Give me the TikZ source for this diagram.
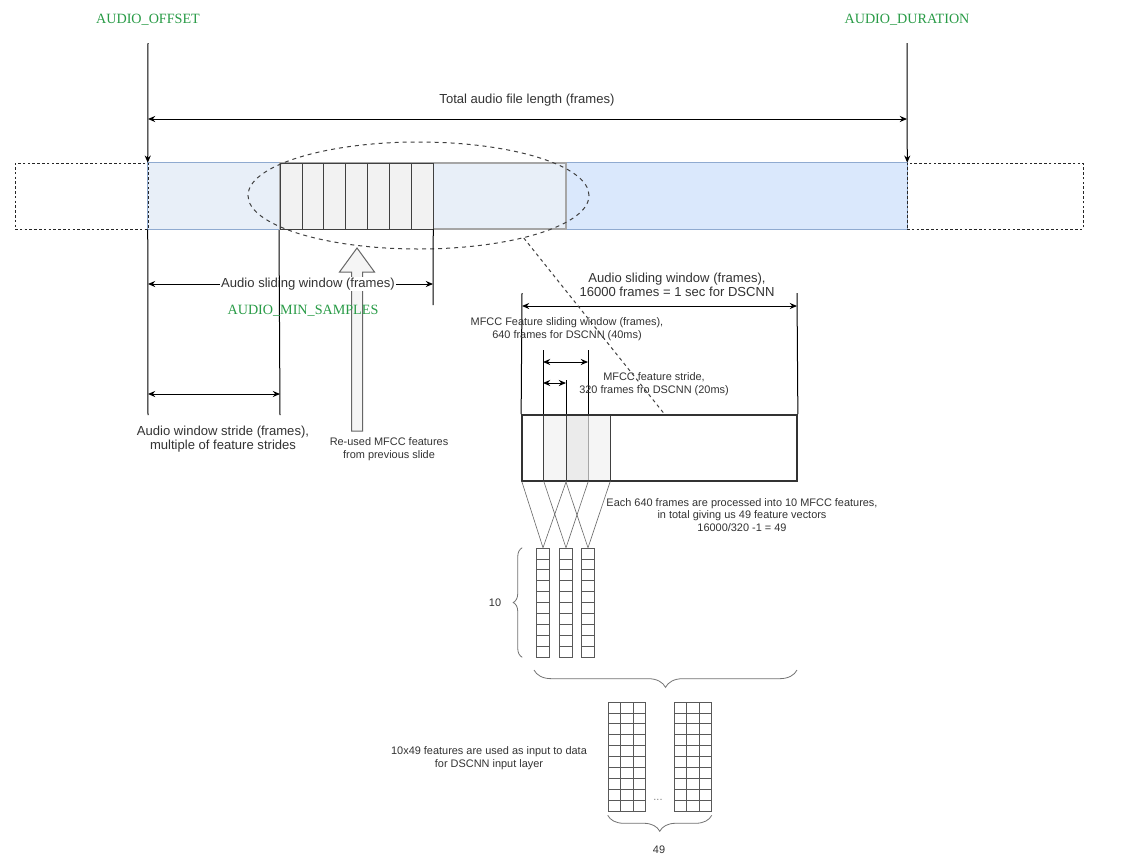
\documentclass[tikz,border=0pt]{standalone}
\usepackage{fontspec}
\setmainfont{Liberation Sans}
\newfontfamily\paramfont{Liberation Serif}
\usetikzlibrary{positioning, arrows.meta, shapes.geometric, fit, calc, decorations.pathreplacing}
\definecolor{paramgreen}{RGB}{40,155,70}
\definecolor{bandblue}{HTML}{DAE8FC}
\definecolor{bandpale}{HTML}{E8EFF8}
\definecolor{bandline}{HTML}{8FAAD0}
\tikzset{
  txt/.style      = {align=center, inner sep=1pt, font=\fontsize{9.8}{10.8}\selectfont, text=black!80},
  smalltxt/.style = {txt, font=\fontsize{8.2}{9.4}\selectfont},
  param/.style    = {inner sep=1pt, font=\paramfont\fontsize{10.6}{12}\selectfont, text=paramgreen},
  area/.style     = {fit={#1}, inner sep=0pt},
  ghost/.style    = {draw=black!85, dash pattern=on 2pt off 1.6pt, line width=0.6pt},
  guide/.style    = {line width=0.75pt},
  dimarrow/.style = {{Stealth[length=1.9mm,width=1.6mm]}-{Stealth[length=1.9mm,width=1.6mm]}, line width=0.75pt},
  drop/.style     = {-{Stealth[length=1.9mm,width=1.6mm]}, line width=0.75pt},
  slicecell/.style= {draw=black!75, fill=black!5, line width=0.6pt},
  gridcell/.style = {draw=black!65, line width=0.5pt},
  fan/.style      = {draw=black!60, line width=0.45pt},
  lasso/.style    = {ellipse, draw=black!75, dash pattern=on 3pt off 3pt, line width=0.75pt, inner sep=0pt},
  link/.style     = {draw=black!75, dash pattern=on 2.5pt off 2.5pt, line width=0.75pt},
  hollow/.style   = {draw=black!60, fill=black!4, line width=0.75pt},
  curly/.style    = {decorate, decoration={brace, amplitude=#1}, draw=black!55, line width=0.6pt},
}

\begin{document}
\begin{tikzpicture}[x=0.75pt, y=-0.75pt]
  \useasboundingbox[fill=white] (0,0) rectangle (1138,861);

  % parameter names
  \node[param] at (148, 20) (offset)   {AUDIO\_OFFSET};
  \node[param] at (907, 20) (duration) {AUDIO\_DURATION};

  % the audio file
  \node[area={(148,163) (907,229)}, fill=bandblue] (band) {};
  \node[area={(148,163) (566,229)}, fill=bandpale] (seen) {};
  \draw[bandline, line width=0.75pt] (band.north west) rectangle (band.south east);
  \node[area={(15,163) (148,229)}, ghost]   (padL) {};
  \node[area={(907,163) (1083,229)}, ghost] (padR) {};

  % previous window and its MFCC slices
  \node[area={(280,163) (566,229)}, draw=black!35, line width=1.5pt] (prevWin) {};
  \foreach \i in {0,...,6}
    \draw[slicecell] (280+\i*21.9,163) rectangle ++(21.9,66);
  \node[area={(280,163) (433,229)}] (slices) {};
  \node[lasso, minimum width=255.75pt, minimum height=80.25pt] at (418.5,195.5) (reuse) {};

  \coordinate (offTop) at (148,43);
  \coordinate (durTop) at (907,43);
  \draw[drop] (offTop) -- (band.north west);
  \draw[drop] (durTop) -- (band.north east);
  \draw[dimarrow] ($(offTop)+(0,76)$) -- ($(durTop)+(0,76)$);
  \node[txt] at (527,100) (total) {Total audio file length (frames)};

  % re-used features
  \coordinate (reuseTip)  at (357,248);
  \coordinate (reuseTail) at (357,431);
  \draw[hollow] ($(reuseTail)+(-5.5,0)$) -- ($(reuseTip)+(-5.5,24)$) -- ($(reuseTip)+(-17.5,24)$)
    -- (reuseTip) -- ($(reuseTip)+(17.5,24)$) -- ($(reuseTip)+(5.5,24)$) -- ($(reuseTail)+(5.5,0)$) -- cycle;

  % sliding window and stride
  \coordinate (offFoot)    at (148,415);
  \coordinate (strideFoot) at (280,415);
  \coordinate (winFoot)    at (433,305);
  \node[txt, fill=white] at (308,284) (winLbl) {Audio sliding window (frames)};
  \draw[{Stealth[length=1.9mm,width=1.6mm]}-, guide] (offFoot |- winLbl) -- (winLbl.west);
  \draw[-{Stealth[length=1.9mm,width=1.6mm]}, guide] (winLbl.east) -- (winFoot |- winLbl);
  \draw[guide] (band.south west) -- (offFoot);
  \draw[guide] (prevWin.south west) -- (strideFoot);
  \draw[guide] (slices.south east) -- (winFoot);
  \draw[dimarrow] ($(offFoot)+(0,-21)$) -- ($(strideFoot)+(0,-21)$);
  \node[txt] at (223,439) (strideLbl) {Audio window stride (frames),\\multiple of feature strides};
  \node[param] at (303,311) (minSamples) {AUDIO\_MIN\_SAMPLES};
  \node[smalltxt] at (389,449) (reusedLbl) {Re-used MFCC features\\from previous slide};

  % one window in detail
  \node[area={(522,415) (566,481)}] (winA) {};
  \node[area={(544,415) (588,481)}, fill=black, fill opacity=0.04] (winB) {};
  \node[area={(566,415) (610,481)}, fill=black, fill opacity=0.04] (winC) {};
  \draw[black!75, line width=0.6pt] (winA.north east) -- (winA.south east);
  \draw[black!75, line width=0.6pt] (winB.north west) -- (winB.south west);
  \draw[black!35, line width=0.6pt] (winB.north east) -- (winB.south east);
  \draw[black!75, line width=0.6pt] (winC.north east) -- (winC.south east);
  \node[area={(522,415) (797,481)}, draw=black!80, line width=1.3pt] (winBox) {};

  \coordinate (bigL)    at (522,293);
  \coordinate (bigR)    at (797,293);
  \coordinate (featL)   at (543,350);
  \coordinate (featR)   at (588,350);
  \coordinate (strideR) at (566,380);
  \draw[guide] (bigL) -- (winBox.north west);
  \draw[guide] (bigR) -- (winBox.north east);
  \draw[guide] (featL) -- (featL |- winBox.north);
  \draw[guide] (featR) -- (featR |- winBox.north);
  \draw[guide] (strideR) -- (strideR |- winBox.north);
  \draw[dimarrow] ($(bigL)+(0,13)$) -- ($(bigR)+(0,13)$);
  \draw[dimarrow] ($(featL)+(0,12)$) -- ($(featR)+(0,12)$);
  \draw[dimarrow] ($(featL)+(0,33)$) -- ($(strideR)+(0,3)$);
  \node[txt] at (677,285) (bigLbl) {Audio sliding window (frames),\\16000 frames = 1 sec for DSCNN};
  \node[smalltxt] at (567,329) (featLbl) {MFCC Feature sliding window (frames),\\640 frames for DSCNN (40ms)};
  \node[smalltxt] at (654,384) (featStrideLbl) {MFCC feature stride,\\320 frames fro DSCNN (20ms)};
  \draw[link] (reuse.-22) -- ($(winBox.north)+(5,0)$);

  % MFCC feature vectors
  \foreach \cx [count=\k] in {543,566,588} {
    \node[area={(\cx-6.5,548) (\cx+6.5,657)}] (col\k) {};
    \foreach \r in {0,...,9}
      \draw[gridcell] (\cx-6.5,548+\r*10.9) rectangle ++(13,10.9);
  }
  \draw[fan] (winA.south west) -- (col1.north) -- (winA.south east);
  \draw[fan] (winB.south west) -- (col2.north) -- (winB.south east);
  \draw[fan] (winC.south west) -- (col3.north) -- (winC.south east);
  \node[smalltxt] at (742,515) (procLbl) {Each 640 frames are processed into 10 MFCC features,\\in total giving us 49 feature vectors\\16000/320 -1 = 49};

  \draw[curly=6.75pt] ($(col1.south west)+(-14,0)$) -- ($(col1.north west)+(-14,0)$);
  \node[smalltxt] at (495,603) (tenLbl) {10};
  \draw[curly=13pt] (797,670) -- (534,670);

  % DSCNN input
  \foreach \gx [count=\k] in {608,674} {
    \node[area={(\gx,702) (\gx+37.5,811)}] (grid\k) {};
    \foreach \c in {0,1,2}
      \foreach \r in {0,...,9}
        \draw[gridcell] (\gx+\c*12.5,702+\r*10.9) rectangle ++(12.5,10.9);
  }
  \node[smalltxt, text=black!50] at (658,800) (dots) {...};
  \draw[curly=12pt] ($(grid2.south east)+(0,4)$) -- ($(grid1.south west)+(0,4)$);
  \node[smalltxt] at (659,850) (n49) {49};
  \node[smalltxt] at (489,758) (inputLbl) {10x49 features are used as input to data\\for DSCNN input layer};
\end{tikzpicture}
\end{document}
